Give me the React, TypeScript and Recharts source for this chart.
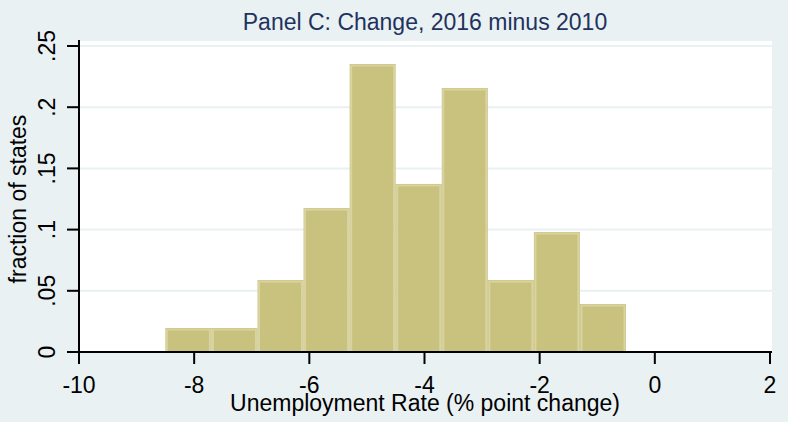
import { ComposedChart, Bar, XAxis, YAxis, CartesianGrid } from 'recharts';

// histogram bins (lower edge, width 0.8) and fraction of states in each
const binStarts = [-8.5, -7.7, -6.9, -6.1, -5.3, -4.5, -3.7, -2.9, -2.1, -1.3];
const fractions = [0.0196, 0.0196, 0.0588, 0.1176, 0.2353, 0.1373, 0.2157, 0.0588, 0.098, 0.0392];
const binWidth = 0.8;

const xTicks = [-10, -8, -6, -4, -2, 0, 2];
const yTicks = [0, 0.05, 0.1, 0.15, 0.2, 0.25];
const yTickLabels = ['0', '.05', '.1', '.15', '.2', '.25'];

const data = binStarts.map((start, i) => ({
  mid: start + binWidth / 2,
  frac: fractions[i],
}));

const FONT = '"Liberation Sans", Arial, sans-serif';
const BG = '#E9F1F3';
const FS = 23;

const HistBar = (props: any) => {
  const { x, y, width, height } = props;
  if (!height || height <= 0) return null;
  return (
    <g>
      <rect x={x} y={y} width={width} height={height} fill="#C9C27E" />
      <rect
        x={x + 1.5}
        y={y + 1.5}
        width={Math.max(width - 3, 0)}
        height={Math.max(height - 1.5, 0)}
        fill="none"
        stroke="#D8D3A0"
        strokeWidth={2}
      />
    </g>
  );
};

const YTick = (props: any) => {
  const { y, index } = props;
  return (
    <text
      x={55}
      y={y}
      transform={`rotate(-90 55 ${y})`}
      textAnchor="middle"
      fontSize={FS}
      fontFamily={FONT}
      fill="#000"
    >
      {yTickLabels[index]}
    </text>
  );
};

export default function App() {
  return (
    <div style={{ position: 'absolute', top: 0, left: 0, width: 788, height: 422, background: BG }}>
      <ComposedChart
        width={788}
        height={422}
        data={data}
        margin={{ top: 40, right: 16, bottom: 0, left: 0 }}
        style={{ fontFamily: FONT }}
      >
        <CartesianGrid vertical={false} fill="#fff" stroke={BG} strokeWidth={2} />
        <XAxis
          type="number"
          dataKey="mid"
          domain={[-10, 2.035]}
          ticks={xTicks}
          allowDataOverflow
          height={70}
          tickSize={12}
          tickMargin={13}
          axisLine={{ stroke: '#000', strokeWidth: 2 }}
          tickLine={{ stroke: '#000', strokeWidth: 2 }}
          tick={{ fontSize: FS, fill: '#000', fontFamily: FONT }}
          label={{
            content: () => (
              <text x={425} y={411} textAnchor="middle" fontSize={FS} fontFamily={FONT} fill="#000">
                Unemployment Rate (% point change)
              </text>
            ),
          }}
        />
        <YAxis
          type="number"
          domain={[0, 0.2549]}
          ticks={yTicks}
          allowDataOverflow
          width={79}
          tickSize={12}
          axisLine={{ stroke: '#000', strokeWidth: 2 }}
          tickLine={{ stroke: '#000', strokeWidth: 2 }}
          tick={<YTick />}
          label={{
            content: () => (
              <text
                x={26}
                y={199}
                transform="rotate(-90 26 199)"
                textAnchor="middle"
                fontSize={FS}
                fontFamily={FONT}
                fill="#000"
              >
                fraction of states
              </text>
            ),
          }}
        />
        <Bar dataKey="frac" barSize={46} shape={<HistBar />} isAnimationActive={false} />
      </ComposedChart>
      <svg
        width={788}
        height={60}
        style={{ position: 'absolute', top: 0, left: 0, pointerEvents: 'none' }}
      >
        <text x={425} y={30} textAnchor="middle" fontSize={FS} fontFamily={FONT} fill="#22325E">
          Panel C: Change, 2016 minus 2010
        </text>
      </svg>
    </div>
  );
}
